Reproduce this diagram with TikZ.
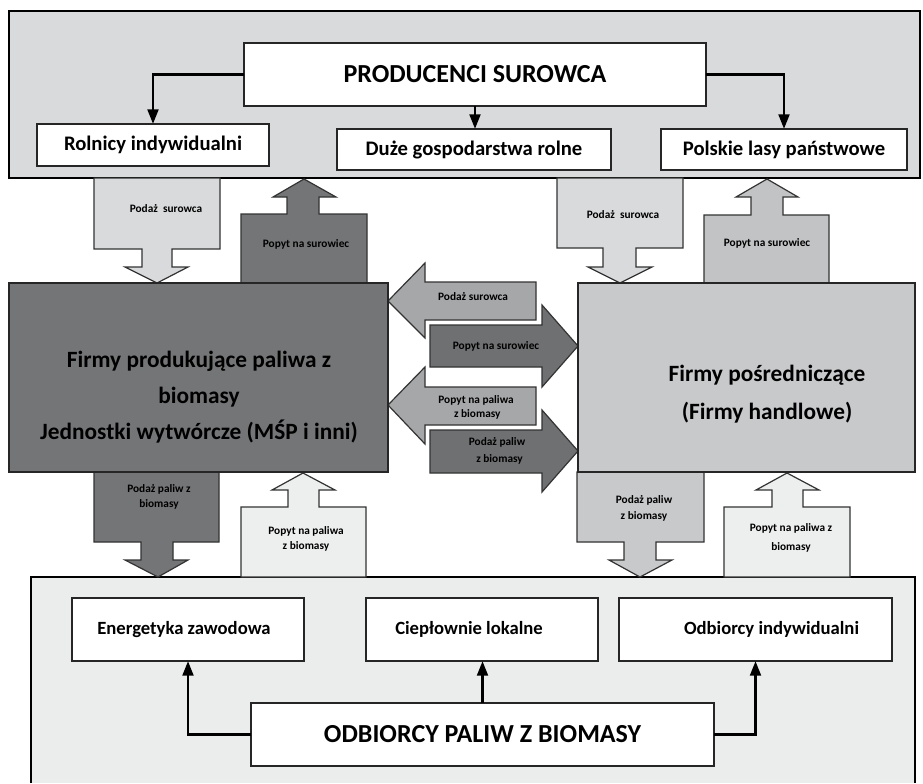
\documentclass[tikz,border=0pt]{standalone}
\usepackage{fontspec}
\setmainfont{Carlito}
\usetikzlibrary{arrows.meta}
\definecolor{topgray}{HTML}{D9DADC}
\definecolor{botgray}{HTML}{EBECEC}
\definecolor{darkbox}{HTML}{747577}
\definecolor{lightbox}{HTML}{C8C9CB}
\definecolor{midarrow}{HTML}{A6A7A9}
\definecolor{darkarrow}{HTML}{6F7072}
\definecolor{palearrow}{HTML}{EDEEEE}
\definecolor{greyarrow}{HTML}{C2C3C5}

\begin{document}
\begin{tikzpicture}[x=0.75pt,y=-0.75pt,>={Triangle[width=8pt,length=11pt]},
  box/.style={draw=black!85,fill=white,line width=1.1pt,outer sep=0pt,inner sep=0pt},
  blk/.style={draw=black!80,line width=0.9pt},
  lbl/.style={font=\fontsize{8.5}{11}\selectfont\bfseries,align=center,inner sep=0pt},
  conn/.style={->,line width=2.2pt}]
\useasboundingbox (0,0) rectangle (923,783);
\fill[white] (0,0) rectangle (923,783);
% panels
\draw[fill=topgray,line width=1.1pt] (9,11) rectangle (920,178);
\fill[botgray] (31,577) rectangle (915,783);
\draw[line width=1.1pt] (31,783) -- (31,577) -- (915,577) -- (915,783);
% producers
\node[box,minimum width=346.5pt,minimum height=47.25pt,font=\fontsize{19.5}{23}\selectfont\bfseries] (prod) at (475,74.5) {PRODUCENCI SUROWCA};
\node[box,minimum width=174pt,minimum height=31.5pt,font=\fontsize{15.5}{18}\selectfont\bfseries] (rol) at (153,145) {Rolnicy indywidualni};
\node[box,minimum width=205.5pt,minimum height=30.75pt,font=\fontsize{15.5}{18}\selectfont\bfseries] (duze) at (474,149.5) {Duże gospodarstwa rolne};
\node[box,minimum width=184.5pt,minimum height=30.75pt,font=\fontsize{15.5}{18}\selectfont\bfseries] (pol) at (784,149.5) {Polskie lasy państwowe};
\draw[conn] (prod.west) -| (rol.north);
\draw[conn] (prod.south) -- (prod.south |- duze.north);
\draw[conn] (prod.east) -| (pol.north);
% block arrows, top
\draw[blk,fill=topgray] (94,178) -- (220,178) -- (220,249) -- (172,249) -- (172,267) -- (188,267) -- (157,283)
  -- (125,267) -- (142,267) -- (142,249) -- (94,249) -- cycle;
\draw[blk,fill=darkbox] (241,283) -- (241,214) -- (287,214) -- (287,197) -- (273,197) -- (304,179)
  -- (336,197) -- (319,197) -- (319,214) -- (367,214) -- (367,283) -- cycle;
\draw[blk,fill=topgray] (557,178) -- (683,178) -- (683,248) -- (636,248) -- (636,267) -- (652,267) -- (620,283)
  -- (588,267) -- (603,267) -- (603,248) -- (557,248) -- cycle;
\draw[blk,fill=greyarrow] (704,283) -- (704,215) -- (751,215) -- (751,197) -- (736,197) -- (767,179)
  -- (798,197) -- (783,197) -- (783,215) -- (829,215) -- (829,283) -- cycle;
\node[lbl] (podazl) at (166,209) {Podaż\ \ surowca};
\node[lbl] (popytl) at (306,244) {Popyt na surowiec};
\node[lbl] (podazr) at (623,215) {Podaż\ \ surowca};
\node[lbl] (popytr) at (767,243) {Popyt na surowiec};
% block arrows, middle
\draw[blk,fill=midarrow] (536,282) -- (425,282) -- (425,263) -- (388,301) -- (425,338) -- (425,320) -- (536,320) -- cycle;
\draw[blk,fill=darkarrow] (430,325) -- (542,325) -- (542,305) -- (578,346) -- (542,387) -- (542,367) -- (430,367) -- cycle;
\draw[blk,fill=midarrow] (536,387) -- (425,387) -- (425,367) -- (388,405) -- (425,444) -- (425,425) -- (536,425) -- cycle;
\draw[blk,fill=darkarrow] (430,430) -- (542,430) -- (542,410) -- (578,451) -- (542,492) -- (542,473) -- (430,473) -- cycle;
\node[lbl] (m1) at (473,297) {Podaż surowca};
\node[lbl] (m2) at (496,346) {Popyt na surowiec};
\node[lbl,font=\fontsize{8.5}{10.5}\selectfont\bfseries] (m3) at (476,407) {Popyt na paliwa\\\ z biomasy};
\node[lbl,font=\fontsize{8.5}{12.75}\selectfont\bfseries] (m4) at (497,451) {Podaż paliw\\\ \ z biomasy};
% block arrows, bottom
\draw[blk,fill=darkbox] (94,472) -- (219,472) -- (219,542) -- (173,542) -- (173,560) -- (188,560) -- (158,577)
  -- (125,560) -- (141,560) -- (141,542) -- (94,542) -- cycle;
\draw[blk,fill=palearrow] (241,577) -- (241,507) -- (288,507) -- (288,490) -- (272,490) -- (303,473)
  -- (335,490) -- (319,490) -- (319,507) -- (366,507) -- (366,577) -- cycle;
\draw[blk,fill=lightbox] (577,472) -- (704,472) -- (704,542) -- (656,542) -- (656,560) -- (672,560) -- (640,577)
  -- (609,560) -- (624,560) -- (624,542) -- (577,542) -- cycle;
\draw[blk,fill=palearrow] (724,577) -- (724,507) -- (772,507) -- (772,490) -- (756,490) -- (787,473)
  -- (819,490) -- (803,490) -- (803,507) -- (850,507) -- (850,577) -- cycle;
\node[lbl] (podazbl) at (159,497) {Podaż paliw z\\biomasy};
\node[lbl] (popytbl) at (306,539) {Popyt na paliwa\\z biomasy};
\node[lbl,font=\fontsize{8.5}{12}\selectfont\bfseries] (podazbr) at (644,508) {Podaż paliw\\z biomasy};
\node[lbl,font=\fontsize{8.5}{14.25}\selectfont\bfseries] (popytbr) at (791,538) {Popyt na paliwa z\\biomasy};
% firms
\node[box,fill=darkbox,minimum width=284.25pt,minimum height=141.75pt] (firmy) at (198.5,377.5) {};
\node[font=\fontsize{17.5}{27}\selectfont\bfseries,align=center] (firmytxt) at (199,397)
  {Firmy produkujące paliwa z\\biomasy\\Jednostki wytwórcze (MŚP i inni)};
\node[box,fill=lightbox,minimum width=252.75pt,minimum height=141.75pt] (posr) at (746.5,377.5) {};
\node[font=\fontsize{17.5}{28}\selectfont\bfseries,align=center] (posrtxt) at (767,394)
  {Firmy pośredniczące\\(Firmy handlowe)};
% consumers
\node[box,minimum width=174pt,minimum height=47.25pt,font=\fontsize{14}{17}\selectfont\bfseries] (ener) at (188,629.5) {\hspace*{-6pt}Energetyka zawodowa};
\node[box,minimum width=174pt,minimum height=47.25pt,font=\fontsize{14}{17}\selectfont\bfseries] (ciep) at (482,629.5) {\hspace*{-19.5pt}Ciepłownie lokalne};
\node[box,minimum width=204.75pt,minimum height=47.25pt,font=\fontsize{14}{17}\selectfont\bfseries] (indyw) at (755.5,629.5) {\hspace*{24pt}Odbiorcy indywidualni};
\node[box,minimum width=347.25pt,minimum height=47.25pt,font=\fontsize{19.5}{23}\selectfont\bfseries] (odb) at (482.5,734.5) {ODBIORCY PALIW Z BIOMASY};
\draw[conn] (odb.west) -| (ener.south);
\draw[conn] (odb.north) -- (odb.north |- ciep.south);
\draw[conn] (odb.east) -| (indyw.south);
\end{tikzpicture}
\end{document}
